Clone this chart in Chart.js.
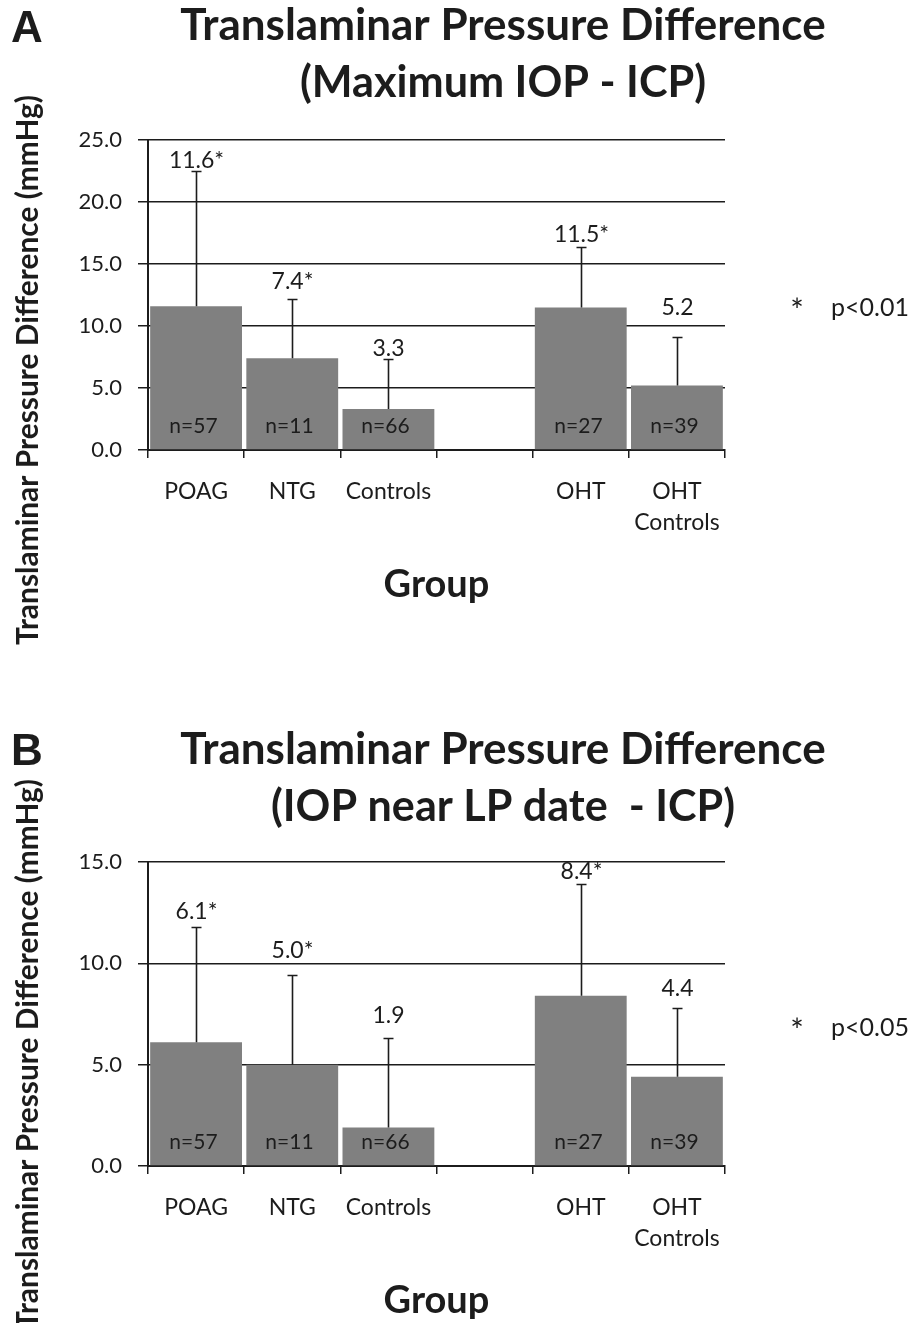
<!DOCTYPE html>
<html>
<head>
<meta charset="utf-8">
<script src="https://cdn.jsdelivr.net/npm/chart.js@4/dist/chart.umd.min.js"></script>
<style>
  html, body { margin: 0; padding: 0; background: #fff; }
  canvas { display: block; }
</style>
</head>
<body>
<canvas id="chartA" width="918" height="661"></canvas>
<canvas id="chartB" width="918" height="662"></canvas>
<script>
// groups (the empty slot is the gap between the two clusters)
const groups = ['POAG', 'NTG', 'Controls', '', 'OHT', ['OHT', 'Controls']];
const sampleSizes = [57, 11, 66, null, 27, 39];

// A: maximum IOP - ICP
const maxMeans = [11.6, 7.4, 3.3, null, 11.5, 5.2];
const maxSD    = [10.9, 4.8, 4.0, null, 4.9, 3.9];
const maxStars = ['*', '*', '', '', '*', ''];

// B: IOP near LP date - ICP
const lpMeans = [6.1, 5.0, 1.9, null, 8.4, 4.4];
const lpSD    = [5.7, 4.4, 4.4, null, 5.5, 3.4];
const lpStars = ['*', '*', '', '', '*', ''];

const INK = '#1c1c1c';
const BAR = '#808080';
const FONT = 'Lato, "Open Sans", sans-serif';

// error bars, value labels, n= labels and all the surrounding text
const extras = {
  id: 'extras',
  afterDatasetsDraw(chart, args, o) {
    const { ctx, chartArea: a, scales: { x, y } } = chart;
    const data = chart.data.datasets[0].data;
    ctx.save();
    ctx.strokeStyle = INK;
    ctx.fillStyle = INK;
    ctx.lineWidth = 1.6;
    data.forEach((v, i) => {
      if (v == null) return;
      const cx = Math.round(x.getPixelForValue(i)) + 0.5;
      const yBar = y.getPixelForValue(v);
      const yTop = Math.round(y.getPixelForValue(v + o.sd[i])) + 0.5;
      ctx.beginPath();
      ctx.moveTo(cx, yBar);
      ctx.lineTo(cx, yTop);
      ctx.moveTo(cx - 5, yTop);
      ctx.lineTo(cx + 5, yTop);
      ctx.stroke();

      ctx.font = `23px ${FONT}`;
      ctx.textAlign = 'center';
      ctx.textBaseline = 'alphabetic';
      ctx.fillText(v.toFixed(1) + o.stars[i], cx, yTop - o.gap[i]);

      ctx.font = `21px ${FONT}`;
      ctx.textBaseline = 'middle';
      ctx.fillText('n=' + o.n[i], cx - 3, a.bottom - 24);
    });
    ctx.restore();
  },
  afterDraw(chart, args, o) {
    const { ctx, chartArea: a } = chart;
    ctx.save();
    ctx.fillStyle = INK;
    ctx.textBaseline = 'alphabetic';

    ctx.font = 'bold 44px "Liberation Sans", Arial, sans-serif';
    ctx.textAlign = 'left';
    ctx.fillText(o.letter, 11, o.letterY);

    ctx.font = `bold 44px ${FONT}`;
    ctx.textAlign = 'center';
    o.title.forEach(t => ctx.fillText(t.text, 503, t.y, t.w));

    ctx.font = `bold 38px ${FONT}`;
    ctx.fillText('Group', (a.left + a.right) / 2, o.groupY);

    ctx.font = `32px ${FONT}`;
    ctx.textBaseline = 'middle';
    ctx.fillText('*', 797, o.noteY + 4);
    ctx.font = `25px ${FONT}`;
    ctx.textAlign = 'left';
    ctx.fillText(o.note, 831, o.noteY);

    ctx.translate(28, o.yTitleY);
    ctx.rotate(-Math.PI / 2);
    ctx.textAlign = 'center';
    ctx.font = `bold 30px ${FONT}`;
    ctx.fillText('Translaminar Pressure Difference (mmHg)', 0, 0, 550);
    ctx.restore();
  }
};

function panel(id, p) {
  return new Chart(document.getElementById(id), {
    type: 'bar',
    data: {
      labels: groups,
      datasets: [{
        data: p.means,
        backgroundColor: BAR,
        borderWidth: 0,
        barPercentage: 0.955,
        categoryPercentage: 1,
      }],
    },
    options: {
      responsive: false,
      animation: false,
      layout: { padding: p.padding },
      plugins: {
        legend: { display: false },
        tooltip: { enabled: false },
        extras: {
          sd: p.sd, stars: p.stars, n: sampleSizes, gap: p.labelGap,
          letter: p.letter, letterY: p.letterY, title: p.title,
          groupY: p.groupY, note: p.note, noteY: p.noteY, yTitleY: p.yTitleY,
        },
      },
      scales: {
        x: {
          afterFit: s => { s.height = 80; },
          grid: { offset: true, drawOnChartArea: false, drawTicks: true, tickLength: 8, color: INK, lineWidth: 1.5 },
          border: { display: true, color: INK, width: 2 },
          ticks: { color: INK, padding: 18, maxRotation: 0, autoSkip: false, font: { family: FONT, size: 23, lineHeight: 1.35 } },
        },
        y: {
          min: 0, max: p.max,
          afterFit: s => { s.width = 90; },
          grid: { color: INK, lineWidth: 1.5, tickLength: 10 },
          border: { display: true, color: INK, width: 2 },
          ticks: { stepSize: 5, color: INK, padding: 16, font: { family: FONT, size: 22 }, callback: v => v.toFixed(1) },
        },
      },
    },
    plugins: [extras],
  });
}

panel('chartA', {
  means: maxMeans, sd: maxSD, stars: maxStars, max: 25,
  padding: { top: 140, left: 58, right: 193, bottom: 131 },
  labelGap: [4, 11, 4, 0, 6, 23],
  letter: 'A', letterY: 42,
  title: [
    { text: 'Translaminar Pressure Difference', y: 40, w: 650 },
    { text: '(Maximum IOP - ICP)', y: 97, w: 406 },
  ],
  groupY: 597, note: 'p<0.01', noteY: 308, yTitleY: 370,
});

panel('chartB', {
  means: lpMeans, sd: lpSD, stars: lpStars, max: 15,
  padding: { top: 201, left: 58, right: 193, bottom: 77 },
  labelGap: [9, 18, 16, 0, 6, 13],
  letter: 'B', letterY: 104,
  title: [
    { text: 'Translaminar Pressure Difference', y: 103, w: 650 },
    { text: '(IOP near LP date  - ICP)', y: 160, w: 464 },
  ],
  groupY: 652, note: 'p<0.05', noteY: 367, yTitleY: 393,
});
</script>
</body>
</html>
